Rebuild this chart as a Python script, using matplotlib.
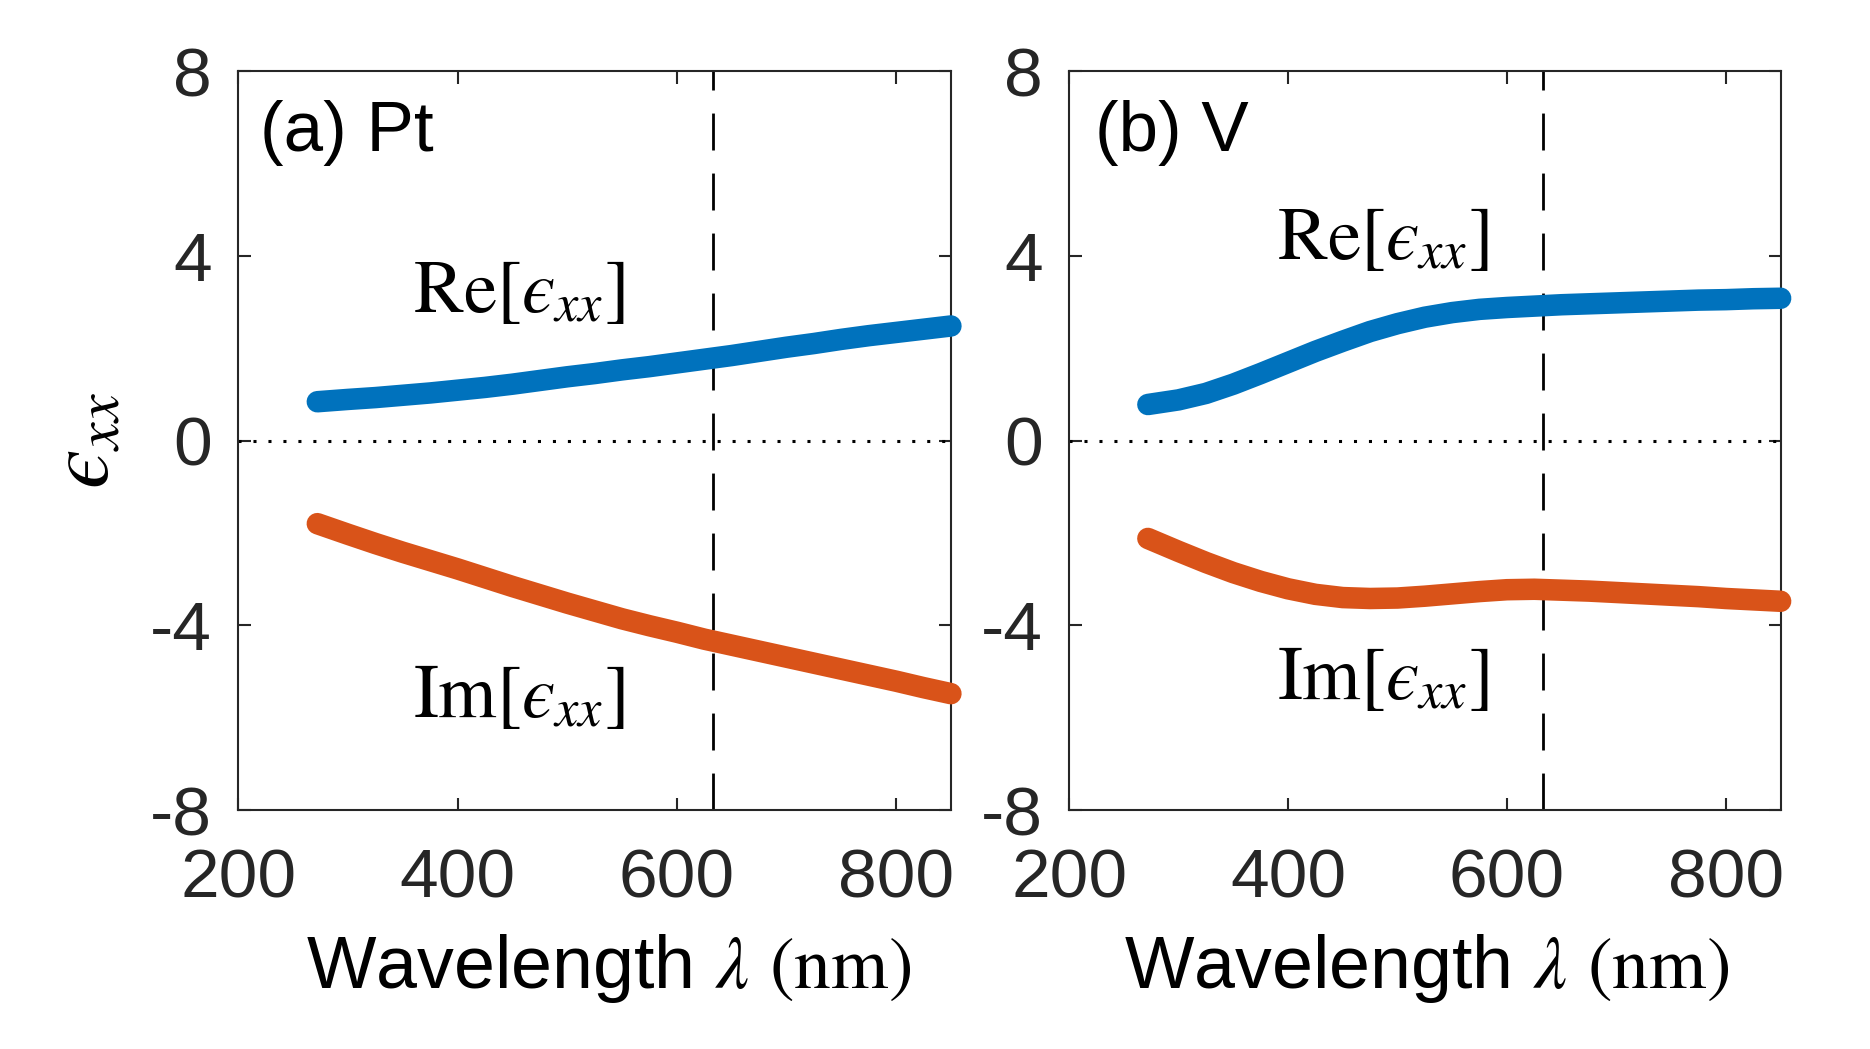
import matplotlib
matplotlib.use('Agg')
import matplotlib.pyplot as plt

plt.rcParams['font.family'] = ['Liberation Sans', 'DejaVu Sans']
plt.rcParams['mathtext.fontset'] = 'stix'

# Data
wl = [272, 300, 325, 350, 375, 400, 425, 450, 475, 500, 525, 550,
      575, 600, 625, 650, 675, 700, 725, 750, 775, 800, 825, 850]

pt_re = [0.84, 0.89, 0.93, 0.98, 1.03, 1.09, 1.15, 1.22, 1.30, 1.38, 1.45, 1.53,
         1.60, 1.68, 1.76, 1.84, 1.93, 2.02, 2.10, 2.19, 2.27, 2.34, 2.41, 2.48]
pt_im = [-1.80, -2.03, -2.23, -2.42, -2.60, -2.78, -2.97, -3.16, -3.34, -3.52, -3.69, -3.86,
         -4.01, -4.15, -4.30, -4.43, -4.56, -4.69, -4.82, -4.95, -5.08, -5.21, -5.35, -5.48]

v_re = [0.78, 0.88, 1.02, 1.22, 1.45, 1.69, 1.93, 2.15, 2.36, 2.53, 2.67, 2.77,
        2.84, 2.88, 2.91, 2.94, 2.96, 2.98, 3.00, 3.02, 3.04, 3.05, 3.07, 3.08]
v_im = [-2.12, -2.40, -2.64, -2.86, -3.05, -3.21, -3.33, -3.40, -3.42, -3.41, -3.37, -3.32,
        -3.27, -3.23, -3.22, -3.24, -3.26, -3.29, -3.32, -3.35, -3.38, -3.42, -3.45, -3.48]

laser_wl = 633
xticks = [200, 400, 600, 800]
yticks = [-8, -4, 0, 4, 8]
ytick_labels = ['-8', '-4', '0', '4', '8']

panels = [
    ('(a) Pt', pt_re, pt_im, [0.1275, 0.2278, 0.381, 0.7045], 0.030, (456, 3.21), (456, -5.57), 0.519),
    ('(b) V', v_re, v_im, [0.5717, 0.2278, 0.3805, 0.7045], 0.0365, (487, 4.36), (487, -5.17), 0.503),
]

blue = '#0072BD'
orange = '#D95319'
dark = '#262626'

fig = plt.figure(figsize=(18.7, 10.49), dpi=100)

for i, (title, re, im, rect, tx, re_pos, im_pos, xl) in enumerate(panels):
    ax = fig.add_axes(rect)
    ax.plot(wl, re, color=blue, lw=15.5, solid_capstyle='round', solid_joinstyle='round',
            clip_on=False, zorder=3)
    ax.plot(wl, im, color=orange, lw=15.5, solid_capstyle='round', solid_joinstyle='round',
            clip_on=False, zorder=3)

    # zero line and laser wavelength
    ax.axhline(0, color='black', lw=2.2, linestyle=(0, (1, 3.9)), zorder=2)
    ax.axvline(laser_wl, color='black', lw=2, dashes=(13.3, 8.3), zorder=2)

    ax.set_xlim(200, 850)
    ax.set_ylim(-8, 8)
    ax.set_xticks(xticks)
    ax.set_yticks(yticks)
    ax.set_yticklabels(ytick_labels)

    ax.tick_params(direction='in', length=9, width=1.5, top=True, right=True,
                   labelsize=50, colors=dark)
    ax.tick_params(axis='x', pad=27)
    ax.tick_params(axis='y', pad=19)
    for s in ax.spines.values():
        s.set_color(dark)
        s.set_linewidth(1.5)

    ax.text(tx, 0.892, title, transform=ax.transAxes, fontsize=51, color='black',
            ha='left', va='baseline')
    ax.text(re_pos[0], re_pos[1], r'$\mathrm{Re}[ϵ_{xx}]$', fontsize=54,
            ha='center', va='center')
    ax.text(im_pos[0], im_pos[1], r'$\mathrm{Im}[ϵ_{xx}]$', fontsize=54,
            ha='center', va='center')

    ax.set_xlabel(r'Wavelength $\lambda$ $\mathrm{(nm)}$', fontsize=53, va='baseline')
    ax.xaxis.set_label_coords(xl, -0.241)
    if i == 0:
        ax.set_ylabel(r'$ϵ_{xx}$', fontsize=64, va='center')
        ax.yaxis.set_label_coords(-0.214, 0.5)

fig.savefig('out.png', dpi=100)
